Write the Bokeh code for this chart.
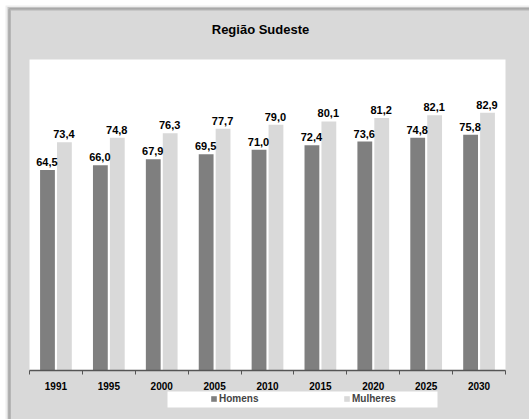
from bokeh.plotting import figure
from bokeh.models import (BoxAnnotation, FixedTicker, Legend, LegendItem,
                          ColumnDataSource, Range1d, LinearAxis, Label)
from bokeh.transform import dodge
from bokeh.embed import file_html
from bokeh.resources import INLINE
from bokeh.core.properties import value

# Life expectancy at birth, Southeast region
years = ["1991", "1995", "2000", "2005", "2010", "2015", "2020", "2025", "2030"]
homens = [64.5, 66.0, 67.9, 69.5, 71.0, 72.4, 73.6, 74.8, 75.8]
mulheres = [73.4, 74.8, 76.3, 77.7, 79.0, 80.1, 81.2, 82.1, 82.9]
series_names = ["Homens", "Mulheres"]
title_text = "Região Sudeste"

DARK = "#7f7f7f"
LIGHT = "#d9d9d9"
FONT = "Liberation Sans"

W, H = 529, 419
# plot area inside the canvas (pixels): left, right, top, bottom
PL, PR, PT, PB = 29, 505, 59, 370
YMAX = 100
n = len(years)

# the frame spans the whole canvas; ranges are set so the 0..n / 0..YMAX
# data box lands on the plot area
ux = (PR - PL) / n
uy = (PB - PT) / YMAX
x0, x1 = -PL / ux, n + (W - PR) / ux
y0, y1 = -(H - PB) / uy, YMAX + PT / uy


def cx(px):
    return x0 + px / ux


def cy(py):
    return y1 - py / uy


centers = [i + 0.5 for i in range(n)]
bounds = list(range(n + 1))

p = figure(width=W, height=H, output_backend="svg", toolbar_location=None,
           x_range=Range1d(x0, x1), y_range=Range1d(y0, y1),
           x_axis_location=None, y_axis_location=None,
           min_border=0, min_border_left=0, min_border_right=0,
           min_border_top=0, min_border_bottom=0)
p.border_fill_color = "white"
p.background_fill_color = "white"
p.outline_line_color = None
p.grid.visible = False


def box(l, t, r, b, **kw):
    p.add_layout(BoxAnnotation(left=cx(l), right=cx(r), top=cy(t), bottom=cy(b),
                               fill_alpha=1, level="underlay", **kw))


# soft shadow, grey chart area with dark edge, white plot area
box(5, 5, W + 20, H + 20, fill_color="#eeeeee", line_color=None)
box(7, 6.5, W + 20, H + 20, fill_color="#c4c4c4", line_color=None)
box(9.2, 8.8, W + 20, H + 20, fill_color=LIGHT, line_color="#666666", line_width=2.6)
p.add_layout(BoxAnnotation(left=0, right=n, bottom=0, top=YMAX, fill_color="white",
                           fill_alpha=1, line_color=None, level="underlay"))
# white band behind the legend
box(167, 391, 437, 407, fill_color="white", line_color=None)

src = ColumnDataSource(dict(x=centers, homens=homens, mulheres=mulheres,
                            lh=[f"{v:.1f}".replace(".", ",") for v in homens],
                            lm=[f"{v:.1f}".replace(".", ",") for v in mulheres]))

r1 = p.vbar(x=dodge("x", -0.16), top="homens", width=0.28, source=src,
            fill_color=DARK, line_color=None)
r2 = p.vbar(x=dodge("x", 0.16), top="mulheres", width=0.28, source=src,
            fill_color=LIGHT, line_color=None)

for col, lab, off in (("homens", "lh", -0.17), ("mulheres", "lm", 0.15)):
    p.text(x=dodge("x", off), y=col, text=lab, source=src,
           text_font=value(FONT), text_font_style="bold", text_font_size="11px",
           text_align="center", text_baseline="alphabetic", y_offset=-8,
           text_color="black")

# x axis pinned at y=0: labels under each group, ticks on the group boundaries
ax = LinearAxis(fixed_location=0, bounds=(0, n))
ax.ticker = FixedTicker(ticks=centers, minor_ticks=bounds)
ax.major_label_overrides = {c: y for c, y in zip(centers, years)}
ax.major_tick_line_color = None
ax.major_tick_in = 0
ax.major_tick_out = 0
ax.minor_tick_in = 0
ax.minor_tick_out = 4
ax.minor_tick_line_color = "#555555"
ax.axis_line_color = "#555555"
ax.axis_line_width = 1.5
ax.major_label_text_font = FONT
ax.major_label_text_font_style = "bold"
ax.major_label_text_font_size = "10px"
ax.major_label_text_color = "black"
ax.major_label_standoff = 7
p.add_layout(ax, "below")

legend = Legend(items=[LegendItem(label=series_names[0], renderers=[r1]),
                       LegendItem(label=series_names[1], renderers=[r2])],
                orientation="horizontal", location=(210, 15),
                glyph_width=7, glyph_height=7, label_standoff=2, spacing=84,
                label_width=40, padding=1, margin=0,
                background_fill_alpha=0, border_line_color=None,
                label_text_font=FONT, label_text_font_style="bold",
                label_text_font_size="10px", label_height=9)
p.add_layout(legend)

p.add_layout(Label(x=cx(260), y=cy(29), text=title_text, text_align="center",
                   text_baseline="alphabetic", text_font=FONT,
                   text_font_style="bold", text_font_size="13px",
                   text_color="black"))

open("out.html", "w").write(file_html(p, INLINE))
